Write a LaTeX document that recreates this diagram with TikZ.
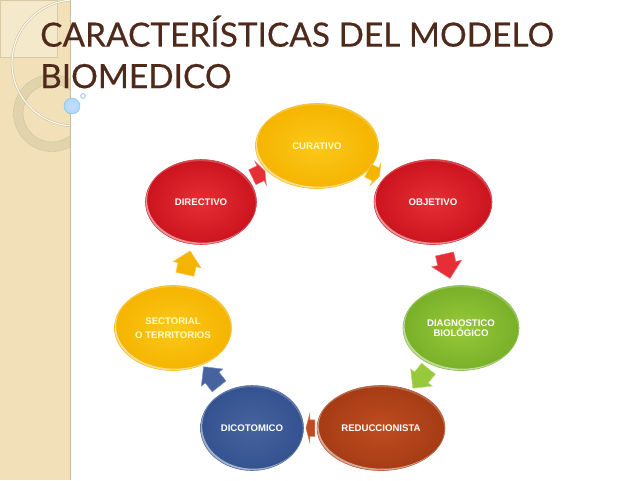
\documentclass[tikz,border=0pt]{standalone}
\usepackage{fontspec}
\usetikzlibrary{shapes.geometric,shapes.arrows}
\setmainfont{Liberation Sans}
\newfontfamily\titlefont[FakeBold=.35]{Lato}
\definecolor{band}{HTML}{F1E0B8}
\definecolor{bandlight}{HTML}{F5E9CC}
\definecolor{bandedge}{HTML}{C9BC98}
\definecolor{ringc}{HTML}{DDD0A8}
\definecolor{titlec}{HTML}{4F2A1B}
\definecolor{redin}{HTML}{E62E36}\definecolor{redout}{HTML}{CC141E}
\definecolor{yelin}{HTML}{FBC81A}\definecolor{yelout}{HTML}{F5B400}
\definecolor{grein}{HTML}{98C93A}\definecolor{greout}{HTML}{78B028}
\definecolor{bluin}{HTML}{46639F}\definecolor{bluout}{HTML}{34528F}
\definecolor{oroin}{HTML}{BE4C20}\definecolor{oroout}{HTML}{A63C14}
\tikzset{
  x=1pt,y=-1pt,
  bubble/.style n args={4}{ellipse,inner sep=0pt,minimum width=#3pt,minimum height=#4pt,
    inner color=#1,outer color=#2,draw=#2!80!white,line width=.6pt,
    text=white,align=center,font=\bfseries\fontsize{9.6}{10.5}\selectfont,
    path picture={
      \fill[white,opacity=.55,even odd rule]
        (path picture bounding box.south west) rectangle (path picture bounding box.north east)
        ([xshift=1.6pt,yshift=1.8pt]path picture bounding box.center) ellipse [x radius=#3pt/2,y radius=#4pt/2];
      \fill[white,opacity=.22,even odd rule]
        (path picture bounding box.south west) rectangle (path picture bounding box.north east)
        ([xshift=-.8pt,yshift=-1.6pt]path picture bounding box.center) ellipse [x radius=#3pt/2,y radius=#4pt/2];
    }},
  flow/.style n args={5}{single arrow,inner sep=0pt,outer sep=0pt,sloped,allow upside down,
    text height=#2pt,text depth=0pt,minimum height=#3pt,single arrow head extend=#4pt,
    single arrow tip angle=#5,fill=#1,draw=#1!70!white,line width=.5pt},
}
\begin{document}
\begin{tikzpicture}
\useasboundingbox (0,0) rectangle (639,480);
\fill[white] (0,0) rectangle (639,480);
% left band
\fill[band] (0,0) rectangle (70,480);
\begin{scope}
  \clip (0,0) rectangle (70,480);
  \fill[bandlight,draw=bandedge!60!band,line width=.4pt] (0,0) rectangle (57,57);
  \fill[ringc,opacity=.8,even odd rule,draw=bandedge,line width=.4pt] (52,113) circle [radius=38.5] (52,113) circle [radius=29];
  \draw[bandedge,line width=2.2pt] (75,63) circle [radius=63];
  \draw[white!85!band,line width=1.2pt] (75,63) circle [radius=63];
\end{scope}
\fill[bandedge] (69.5,0) rectangle (71,480);
% bubbles
\shade[inner color=white!70!cyan!50!blue!30!white,outer color=cyan!60!blue!35!white,draw=cyan!60!blue!45!white,line width=.4pt] (72,106) circle [radius=8];
\draw[cyan!50!blue!40!white,fill=white,line width=.7pt] (83,96) circle [radius=2.4];
% title
\node[anchor=north west,inner sep=0pt,align=left,text=titlec,font=\titlefont\fontsize{33.4}{41.5}\selectfont] (title) at (40,15.5) {CARACTERÍSTICAS DEL MODELO\\BIOMEDICO};
% ellipses
\node[bubble={yelin}{yelout}{123}{85},text=yellow!25!white] (cur) at (317,146) {CURATIVO};
\node[bubble={redin}{redout}{118}{85}] (obj) at (433,202) {OBJETIVO};
\node[bubble={grein}{greout}{116}{85}] (dia) at (461,328) {DIAGNOSTICO\\BIOLÓGICO};
\node[bubble={oroin}{oroout}{128}{85}] (red) at (381,428) {REDUCCIONISTA};
\node[bubble={bluin}{bluout}{103}{85}] (dic) at (252,428) {DICOTOMICO};
\node[bubble={yelin}{yelout}{117}{85},text=yellow!25!white,font=\bfseries\fontsize{9.6}{14}\selectfont] (sec) at (173,328) {SECTORIAL\\O TERRITORIOS};
\node[bubble={redin}{redout}{111}{85}] (dir) at (201,202) {DIRECTIVO};
% block arrows
\path (cur) -- node[pos=.3,flow={yelout}{14}{13}{5}{140}] (a1) {} (obj);
\path (obj) -- node[pos=.42,flow={redin}{18}{25}{6}{90}] (a2) {} (dia);
\path (dia) -- node[pos=.4,flow={grein}{17}{25}{5}{90}] (a3) {} (red);
\path (red) -- node[pos=.4,flow={oroin}{16}{9}{6}{150}] (a4) {} (dic);
\path (dic) -- node[pos=.45,flow={bluin}{17}{25}{5}{90}] (a5) {} (sec);
\path (sec) -- node[pos=.45,flow={yelout}{18}{24}{5}{90}] (a6) {} (dir);
\path (dir) -- node[flow={redin}{16}{14}{5}{140}] (a7) {} (cur);
\end{tikzpicture}
\end{document}
